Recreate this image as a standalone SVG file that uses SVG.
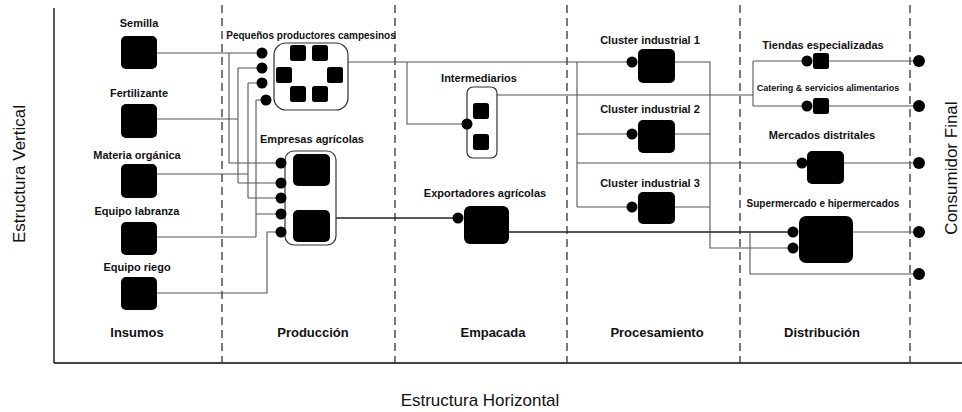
<svg xmlns="http://www.w3.org/2000/svg" width="962" height="412" viewBox="0 0 962 412">
<style>
.lbl{font-family:"Liberation Sans",Arial,sans-serif;font-weight:bold;font-size:11px;fill:#111;text-anchor:middle}
.sm{font-size:10px}
.xs{font-size:9px}
.stage{font-family:"Liberation Sans",Arial,sans-serif;font-weight:bold;font-size:13px;fill:#111;text-anchor:middle}
.axis{font-family:"Liberation Sans",Arial,sans-serif;font-size:17px;fill:#111;text-anchor:middle}
.box{fill:#000}
.cont{fill:#fff;stroke:#333;stroke-width:1.2}
.dot{fill:#000}
.w{fill:none;stroke:#555;stroke-width:1.1}
.wt{fill:none;stroke:#222;stroke-width:1.7}
.dash{stroke:#333;stroke-width:1.3;stroke-dasharray:8 5;fill:none}
</style>
<rect width="962" height="412" fill="#fff"/>
<g id="frame">
<line x1="54" y1="8" x2="54" y2="363" stroke="#222" stroke-width="1.5"/>
<line x1="54" y1="363" x2="962" y2="363" stroke="#444" stroke-width="2"/>
<line class="dash" x1="222" y1="5" x2="222" y2="363"/>
<line class="dash" x1="395" y1="5" x2="395" y2="363"/>
<line class="dash" x1="567" y1="5" x2="567" y2="363"/>
<line class="dash" x1="740" y1="5" x2="740" y2="363"/>
<line class="dash" x1="910" y1="5" x2="910" y2="363"/>
<text class="axis" x="25" y="174" transform="rotate(-90 25 174)">Estructura Vertical</text>
<text class="axis" x="957" y="168" font-size="16" transform="rotate(-90 957 168)">Consumidor Final</text>
<text class="axis" x="480" y="406">Estructura Horizontal</text>
<text class="stage" x="137" y="337">Insumos</text>
<text class="stage" x="313" y="337">Producción</text>
<text class="stage" x="493" y="337">Empacada</text>
<text class="stage" x="657" y="337">Procesamiento</text>
<text class="stage" x="822" y="337">Distribución</text>
</g>
<g id="connectors">
<path class="w" d="M157,53 H257 M229,53 V163 H276"/>
<path class="w" d="M157,119 H238 M238,68 V183 M238,68 H257 M238,183 H276"/>
<path class="w" d="M157,174 H248 M248,83 V198 M248,83 H257 M248,198 H276"/>
<path class="w" d="M157,237 H256 M256,100 V237 M256,100 H261 M256,214 H276"/>
<path class="w" d="M157,293 H267 V232 H276"/>
<path class="w" d="M348,62 H627 M407,62 V124 H462"/>
<path class="w" d="M577,62 V207 M577,134 H627 M577,207 H627 M577,163 H797"/>
<path class="w" d="M675,62 H710 V248 H788 M675,134 H710 M675,207 H710"/>
<path class="w" d="M497,95 H753 M753,61 V106 M753,61 H802 M753,106 H802"/>
<path class="wt" d="M336,218 H453"/>
<path class="wt" d="M509,232 H788"/>
<path class="w" d="M750,232 V274 H913"/>
<path class="w" d="M829,61 H913 M829,106 H913 M844,163 H913 M853,232 H913"/>
</g>
<g id="semilla"><text class="lbl" x="139" y="27">Semilla</text><rect class="box" x="121" y="36" width="36" height="33" rx="5"/></g>
<g id="fertilizante"><text class="lbl" x="139" y="97">Fertilizante</text><rect class="box" x="121" y="104" width="36" height="34" rx="5"/></g>
<g id="materia-organica"><text class="lbl" x="137" y="159">Materia orgánica</text><rect class="box" x="121" y="164" width="36" height="34" rx="5"/></g>
<g id="equipo-labranza"><text class="lbl" x="137" y="215">Equipo labranza</text><rect class="box" x="121" y="222" width="36" height="33" rx="5"/></g>
<g id="equipo-riego"><text class="lbl" x="137" y="271">Equipo riego</text><rect class="box" x="121" y="277" width="36" height="33" rx="5"/></g>
<g id="pequenos-productores">
<text class="lbl sm" x="311" y="39">Pequeños productores campesinos</text>
<rect class="cont" x="274" y="43" width="74" height="67" rx="12"/>
<rect class="box" x="290" y="45" width="16" height="16" rx="2.5"/>
<rect class="box" x="312" y="45" width="16" height="16" rx="2.5"/>
<rect class="box" x="276" y="67" width="16" height="16" rx="2.5"/>
<rect class="box" x="327" y="67" width="16" height="16" rx="2.5"/>
<rect class="box" x="290" y="86" width="16" height="16" rx="2.5"/>
<rect class="box" x="312" y="86" width="16" height="16" rx="2.5"/>
<circle class="dot" cx="262" cy="53" r="5.5"/>
<circle class="dot" cx="262" cy="68" r="5.5"/>
<circle class="dot" cx="262" cy="83" r="5.5"/>
<circle class="dot" cx="266" cy="100" r="5.5"/>
</g>
<g id="empresas-agricolas">
<text class="lbl" x="312" y="143">Empresas agrícolas</text>
<rect class="cont" x="285" y="151" width="51" height="94" rx="9"/>
<rect class="box" x="293" y="154" width="37" height="32" rx="5"/>
<rect class="box" x="293" y="210" width="37" height="32" rx="5"/>
<circle class="dot" cx="281" cy="163" r="5.5"/>
<circle class="dot" cx="281" cy="183" r="5.5"/>
<circle class="dot" cx="281" cy="198" r="5.5"/>
<circle class="dot" cx="281" cy="214" r="5.5"/>
<circle class="dot" cx="281" cy="232" r="5.5"/>
</g>
<g id="intermediarios">
<text class="lbl" x="479" y="82">Intermediarios</text>
<rect class="cont" x="467" y="87" width="30" height="71" rx="6"/>
<rect class="box" x="473" y="103" width="16" height="16" rx="2.5"/>
<rect class="box" x="473" y="134" width="16" height="16" rx="2.5"/>
<circle class="dot" cx="467" cy="124" r="5.5"/>
</g>
<g id="exportadores">
<text class="lbl" x="485" y="197">Exportadores agrícolas</text>
<rect class="box" x="464" y="206" width="45" height="38" rx="6"/>
<circle class="dot" cx="458" cy="218" r="5.5"/>
</g>
<g id="cluster1">
<text class="lbl" x="650" y="44">Cluster industrial 1</text>
<rect class="box" x="638" y="49" width="37" height="34" rx="5"/>
<circle class="dot" cx="632" cy="62" r="5.5"/>
</g>
<g id="cluster2">
<text class="lbl" x="650" y="113">Cluster industrial 2</text>
<rect class="box" x="638" y="120" width="37" height="33" rx="5"/>
<circle class="dot" cx="632" cy="134" r="5.5"/>
</g>
<g id="cluster3">
<text class="lbl" x="650" y="187">Cluster industrial 3</text>
<rect class="box" x="638" y="192" width="37" height="32" rx="5"/>
<circle class="dot" cx="632" cy="207" r="5.5"/>
</g>
<g id="tiendas">
<text class="lbl" x="823" y="49">Tiendas especializadas</text>
<rect class="box" x="813" y="53" width="16" height="16" rx="2.5"/>
<circle class="dot" cx="807" cy="61" r="5.5"/>
</g>
<g id="catering">
<text class="lbl xs" x="828" y="91">Catering &amp; servicios alimentarios</text>
<rect class="box" x="813" y="98" width="16" height="16" rx="2.5"/>
<circle class="dot" cx="807" cy="106" r="5.5"/>
</g>
<g id="mercados">
<text class="lbl" x="822" y="139">Mercados distritales</text>
<rect class="box" x="807" y="151" width="37" height="33" rx="5"/>
<circle class="dot" cx="802" cy="163" r="5.5"/>
</g>
<g id="supermercado">
<text class="lbl sm" x="823" y="207">Supermercado e hipermercados</text>
<rect class="box" x="799" y="216" width="54" height="47" rx="7"/>
<circle class="dot" cx="793" cy="232" r="5.5"/>
<circle class="dot" cx="793" cy="248" r="5.5"/>
</g>
<g id="consumidor-final">
<circle class="dot" cx="919" cy="61" r="6"/>
<circle class="dot" cx="919" cy="106" r="6"/>
<circle class="dot" cx="919" cy="163" r="6"/>
<circle class="dot" cx="919" cy="232" r="6"/>
<circle class="dot" cx="919" cy="274" r="6"/>
</g>
</svg>
